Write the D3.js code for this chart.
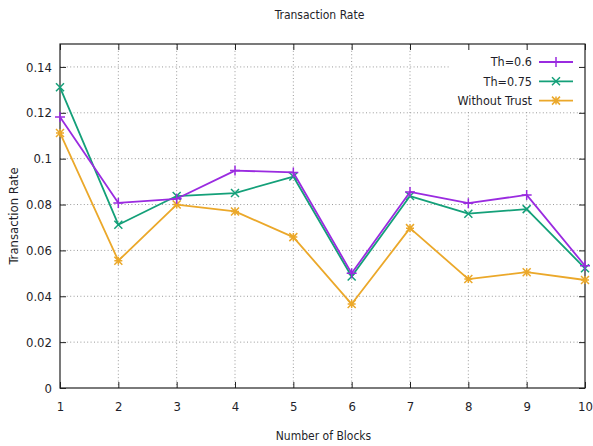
<!DOCTYPE html>
<html>
<head>
<meta charset="utf-8">
<script src="https://cdn.jsdelivr.net/npm/d3@7"></script>
<style>
  html, body { margin: 0; padding: 0; background: #fff; }
  svg { display: block; }
  text { font-family: "DejaVu Sans Condensed", "Liberation Sans", sans-serif; fill: #1f1f2a; }
</style>
</head>
<body>
<svg id="chart" width="593" height="446"></svg>
<script>
// Number of blocks on the x axis
const blocks = [1, 2, 3, 4, 5, 6, 7, 8, 9, 10];

// Transaction rate per series
const th06 = [0.1182, 0.0807, 0.0825, 0.0948, 0.0940, 0.0500, 0.0855, 0.0806, 0.0842, 0.0533];
const th075 = [0.1311, 0.0712, 0.0837, 0.0850, 0.0922, 0.0486, 0.0837, 0.0760, 0.0780, 0.0522];
const withoutTrust = [0.1112, 0.0555, 0.0800, 0.0770, 0.0658, 0.0366, 0.0697, 0.0475, 0.0505, 0.0471];

const seriesNames = ["Th=0.6", "Th=0.75", "Without Trust"];
const seriesColors = ["#9a2be0", "#14a079", "#eba82a"];
const seriesMarkers = ["plus", "cross", "star"];

const yTicks = [0, 0.02, 0.04, 0.06, 0.08, 0.1, 0.12, 0.14];
const yTickLabels = ["0", "0.02", "0.04", "0.06", "0.08", "0.1", "0.12", "0.14"];

const titleText = "Transaction Rate";
const xTitle = "Number of Blocks";
const yTitle = "Transaction Rate";

const W = 593, H = 446;
const margin = { left: 60, right: 8, top: 44, bottom: 58 };
const iw = W - margin.left - margin.right;
const ih = H - margin.top - margin.bottom;

const svg = d3.select("#chart");
const g = svg.append("g").attr("transform", `translate(${margin.left},${margin.top})`);

const x = d3.scaleLinear().domain([1, 10]).range([0, iw]);
const y = d3.scaleLinear().domain([0, 0.15]).range([ih, 0]);

// dotted grid
const grid = g.append("g").attr("stroke", "#9a9a9a").attr("stroke-width", 1)
  .attr("stroke-dasharray", "1,2.4");
grid.selectAll(".gx").data(blocks.slice(1, -1)).join("line")
  .attr("x1", d => x(d)).attr("x2", d => x(d))
  .attr("y1", 0).attr("y2", ih);
grid.selectAll(".gy").data(yTicks.slice(1)).join("line")
  .attr("x1", 0).attr("x2", iw)
  .attr("y1", d => y(d)).attr("y2", d => y(d));

// legend background hides grid behind key
g.append("rect")
  .attr("x", iw - 135).attr("y", 1).attr("width", 134).attr("height", 65)
  .attr("fill", "#fff");

// axes with inward ticks on all four sides
const tickLen = 6;
const axisBottom = d3.axisBottom(x).tickValues(blocks).tickFormat(d3.format("d"))
  .tickSizeInner(-tickLen).tickSizeOuter(0).tickPadding(14);
const axisLeft = d3.axisLeft(y).tickValues(yTicks).tickFormat((d, i) => yTickLabels[i])
  .tickSizeInner(-tickLen).tickSizeOuter(0).tickPadding(8);
const axisTop = d3.axisTop(x).tickValues(blocks).tickFormat("")
  .tickSizeInner(-tickLen).tickSizeOuter(0);
const axisRight = d3.axisRight(y).tickValues(yTicks).tickFormat("")
  .tickSizeInner(-tickLen).tickSizeOuter(0);

function styleAxis(sel) {
  sel.select(".domain").remove();
  sel.selectAll(".tick line").attr("stroke", "#222").attr("stroke-width", 1);
  sel.selectAll(".tick text").attr("font-size", 13).attr("fill", "#1f1f2a")
    .style("font-family", '"DejaVu Sans Condensed", "Liberation Sans", sans-serif');
}
g.append("g").attr("transform", `translate(0,${ih})`).call(axisBottom).call(styleAxis);
g.append("g").call(axisLeft).call(styleAxis);
g.append("g").call(axisTop).call(styleAxis);
g.append("g").attr("transform", `translate(${iw},0)`).call(axisRight).call(styleAxis);

// frame
g.append("rect").attr("x", 0).attr("y", 0).attr("width", iw).attr("height", ih)
  .attr("fill", "none").attr("stroke", "#222").attr("stroke-width", 1.2);

// marker shapes
function markerPath(type, s) {
  const p = d3.path();
  if (type === "plus" || type === "star") {
    p.moveTo(-s, 0); p.lineTo(s, 0);
    p.moveTo(0, -s); p.lineTo(0, s);
  }
  if (type === "cross" || type === "star") {
    p.moveTo(-s, -s); p.lineTo(s, s);
    p.moveTo(-s, s); p.lineTo(s, -s);
  }
  return p.toString();
}

const allSeries = [th06, th075, withoutTrust];
const line = d3.line().x((d, i) => x(blocks[i])).y(d => y(d));

// draw in reverse so the first series sits on top
[2, 1, 0].forEach(k => {
  const vals = allSeries[k];
  const sg = g.append("g");
  sg.append("path").datum(vals).attr("d", line)
    .attr("fill", "none").attr("stroke", seriesColors[k]).attr("stroke-width", 1.8)
    .attr("stroke-linejoin", "round");
  sg.selectAll("path.m").data(vals).join("path").attr("class", "m")
    .attr("transform", (d, i) => `translate(${x(blocks[i])},${y(d)})`)
    .attr("d", markerPath(seriesMarkers[k], seriesMarkers[k] === "plus" ? 5 : 4))
    .attr("fill", "none").attr("stroke", seriesColors[k]).attr("stroke-width", 1.5);
});

// legend
const legend = g.append("g");
seriesNames.forEach((name, k) => {
  const ly = 18 + k * 19.3;
  const lx0 = iw - 46, lx1 = iw - 12;
  legend.append("line").attr("x1", lx0).attr("x2", lx1).attr("y1", ly).attr("y2", ly)
    .attr("stroke", seriesColors[k]).attr("stroke-width", 1.8);
  legend.append("path")
    .attr("transform", `translate(${(lx0 + lx1) / 2},${ly})`)
    .attr("d", markerPath(seriesMarkers[k], seriesMarkers[k] === "plus" ? 5 : 4))
    .attr("fill", "none").attr("stroke", seriesColors[k]).attr("stroke-width", 1.5);
  legend.append("text").attr("x", lx0 - 7).attr("y", ly).attr("dy", "0.35em")
    .attr("text-anchor", "end").attr("font-size", 12.5).text(name);
});

// titles
svg.append("text").attr("x", margin.left + iw / 2 - 3).attr("y", 19)
  .attr("text-anchor", "middle").attr("font-size", 12).text(titleText);
svg.append("text").attr("x", margin.left + iw / 2 + 1).attr("y", 440)
  .attr("text-anchor", "middle").attr("font-size", 12).text(xTitle);
svg.append("text").attr("transform", `translate(18,${margin.top + ih / 2}) rotate(-90)`)
  .attr("text-anchor", "middle").attr("font-size", 13).text(yTitle);
</script>
</body>
</html>
